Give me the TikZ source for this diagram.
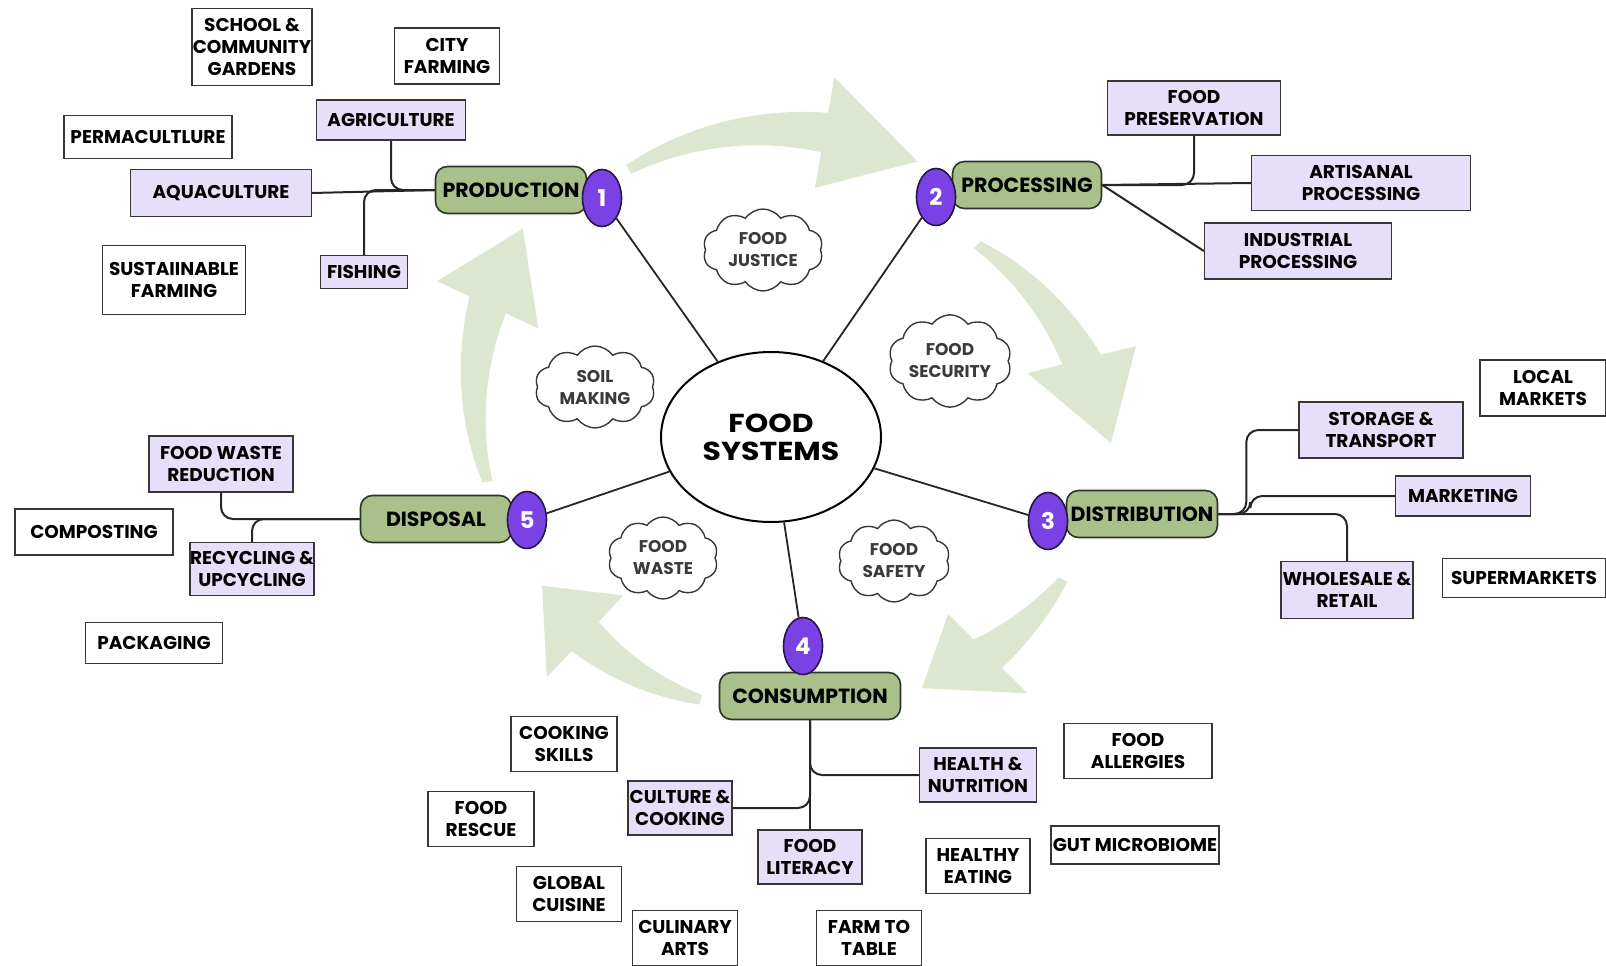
\documentclass[tikz,border=0pt]{standalone}
\usepackage{fontspec}
\setmainfont{Poppins}
\newfontfamily\widefont{Poppins}[FakeStretch=1.15]
\usetikzlibrary{shapes.geometric,shapes.symbols}

\definecolor{stagegreen}{RGB}{170,192,138}
\definecolor{stageedge}{RGB}{45,52,40}
\definecolor{badgepurple}{RGB}{122,66,228}
\definecolor{badgeedge}{RGB}{40,22,72}
\definecolor{topicfill}{RGB}{231,222,250}
\definecolor{boxedge}{RGB}{55,55,55}
\definecolor{cloudtext}{RGB}{58,58,58}
\definecolor{swooshfill}{RGB}{221,230,207}

% tapered curved arrow around the hub: tail angle, head base angle, tip angle, tail radius, tip radius
\newcommand{\swoosh}[5]{%
  \fill[swooshfill, shift={(771,437)}]
    plot[domain=#1:#2, samples=40] (\x:{#4+(#5-(#4))*(\x-(#1))/(#3-(#1)) + (10+30*(\x-(#1))/(#2-(#1)))/2})
    -- (#2:{#4+(#5-(#4))*(#2-(#1))/(#3-(#1))+56})
    -- (#3:#5)
    -- (#2:{#4+(#5-(#4))*(#2-(#1))/(#3-(#1))-56})
    -- plot[domain=#2:#1, samples=40] (\x:{#4+(#5-(#4))*(\x-(#1))/(#3-(#1)) - (10+30*(\x-(#1))/(#2-(#1)))/2})
    -- cycle;}

\newcommand{\boxfont}{\fontsize{18.5}{22}\selectfont\bfseries}

\begin{document}
\begin{tikzpicture}[x=1pt,y=-1pt,
  hub/.style={ellipse, draw=black, line width=2pt, fill=white, minimum width=220pt, minimum height=170pt,
    align=center, font=\fontsize{26}{28}\selectfont\widefont\bfseries},
  stage/.style={draw=stageedge, fill=stagegreen, line width=1.6pt, rounded corners=12pt,
    minimum width=151pt, minimum height=47pt, inner sep=0pt, font=\fontsize{20.5}{22}\selectfont\bfseries},
  badge/.style={ellipse, draw=badgeedge, fill=badgepurple, line width=1.6pt, minimum width=39pt,
    minimum height=57pt, inner sep=0pt, text=white, font=\fontsize{23}{24}\selectfont\bfseries},
  topic/.style={draw=boxedge, fill=topicfill, line width=1.4pt, inner sep=0pt, align=center, font=\boxfont},
  idea/.style={topic, fill=white},
  size/.style 2 args={minimum width=#1pt, minimum height=#2pt},
  thought/.style={cloud, cloud puffs=10, cloud puff arc=110, aspect=1.5, draw=boxedge, line width=1.4pt,
    fill=white, text=cloudtext, inner sep=0pt, minimum width=120pt, minimum height=82pt, align=center,
    font=\fontsize{17}{22}\selectfont\bfseries},
  link/.style={draw=black!85, line width=2pt, rounded corners=12pt},
  spoke/.style={draw=black!85, line width=1.8pt}]

  \useasboundingbox (0,0) rectangle (1606,966);

  % Cycle arrows round the hub
  \swoosh{-118}{-80}{-62}{303}{312}
  \swoosh{-43}{-14}{1}{282}{340}
  \swoosh{26}{45}{59}{325}{293}
  \swoosh{105}{133}{147}{272}{273}
  \swoosh{171}{205}{220}{287}{324}

  % Hub and the five stages
  \node[hub] (hub) at (771,437) {FOOD\\SYSTEMS};

  \node[stage] (prod) at (511,190) {PRODUCTION};
  \node[badge] (b1) at (602,198) {1};
  \node[stage, minimum width=149pt] (proc) at (1027,185) {PROCESSING};
  \node[badge] (b2) at (936,197) {2};
  \node[stage] (dist) at (1142,514) {DISTRIBUTION};
  \node[badge] (b3) at (1048,521) {3};
  \node[stage, minimum width=181pt] (cons) at (810,696) {CONSUMPTION};
  \node[badge] (b4) at (803,646) {4};
  \node[stage] (disp) at (436,519) {DISPOSAL};
  \node[badge] (b5) at (527,520) {5};

  % Clouds between the spokes
  \node[thought] (justice) at (763,250) {FOOD\\JUSTICE};
  \node[thought] (security) at (950,361) {FOOD\\SECURITY};
  \node[thought] (soil) at (595,387) {SOIL\\MAKING};
  \node[thought, minimum width=110pt] (waste) at (663,558) {FOOD\\WASTE};
  \node[thought, minimum width=112pt] (safety) at (894,561) {FOOD\\SAFETY};

  % Production
  \node[topic, size={149}{40}] (agri) at (391,120) {AGRICULTURE};
  \node[topic, size={181}{47}] (aqua) at (221,193) {AQUACULTURE};
  \node[topic, size={87}{33}] (fish) at (364,272) {FISHING};
  \node[idea, size={120}{77}] (garden) at (252,47) {SCHOOL \&\\COMMUNITY\\GARDENS};
  \node[idea, size={105}{56}] (city) at (447,56) {CITY\\FARMING};
  \node[idea, size={168}{43}] (perma) at (148,137) {PERMACULTLURE};
  \node[idea, size={143}{69}] (sustain) at (174,280) {SUSTAIINABLE\\FARMING};

  % Processing
  \node[topic, size={173}{54}] (pres) at (1194,108) {FOOD\\PRESERVATION};
  \node[topic, size={219}{55}] (artis) at (1361,183) {ARTISANAL\\PROCESSING};
  \node[topic, size={187}{56}] (indus) at (1298,251) {INDUSTRIAL\\PROCESSING};

  % Distribution
  \node[topic, size={164}{56}] (stor) at (1381,430) {STORAGE \&\\TRANSPORT};
  \node[topic, size={135}{40}] (mkt) at (1463,496) {MARKETING};
  \node[topic, size={132}{57}] (whole) at (1347,590) {WHOLESALE \&\\RETAIL};
  \node[idea, size={126}{56}] (local) at (1543,388) {LOCAL\\MARKETS};
  \node[idea, size={163}{39}] (super) at (1524,578) {SUPERMARKETS};

  % Consumption
  \node[topic, size={117}{54}] (health) at (978,775) {HEALTH \&\\NUTRITION};
  \node[topic, size={104}{54}] (cult) at (680,808) {CULTURE \&\\COOKING};
  \node[topic, size={104}{54}] (lit) at (810,857) {FOOD\\LITERACY};
  \node[idea, size={106}{55}] (skills) at (564,744) {COOKING\\SKILLS};
  \node[idea, size={106}{55}] (rescue) at (481,819) {FOOD\\RESCUE};
  \node[idea, size={105}{55}] (cuisine) at (569,894) {GLOBAL\\CUISINE};
  \node[idea, size={105}{55}] (arts) at (685,938) {CULINARY\\ARTS};
  \node[idea, size={105}{55}] (farm) at (869,938) {FARM TO\\TABLE};
  \node[idea, size={104}{55}] (healthy) at (978,866) {HEALTHY\\EATING};
  \node[idea, size={148}{55}] (allergy) at (1138,751) {FOOD\\ALLERGIES};
  \node[idea, size={168}{38}] (gut) at (1135,845) {GUT MICROBIOME};

  % Disposal
  \node[topic, size={144}{56}] (fwr) at (221,464) {FOOD WASTE\\REDUCTION};
  \node[topic, size={124}{53}] (recy) at (252,569) {RECYCLING \&\\UPCYCLING};
  \node[idea, size={158}{46}] (compost) at (94,532) {COMPOSTING};
  \node[idea, size={137}{41}] (pack) at (154,643) {PACKAGING};

  % Spokes from the hub
  \foreach \b in {b1,b2,b3,b4,b5}
    \draw[spoke] (hub) -- (\b);

  % Branches
  \draw[link] (aqua.east) -- (prod.west);
  \draw[link] (agri.south) |- (prod.west);
  \draw[link] (fish.north) |- (prod.west);

  \draw[link] (pres.south) |- (proc.east);
  \draw[link] (proc.east) -- (artis.west);
  \draw[link] (proc.east) -- (indus.west);

  \draw[link] (dist.east) -- ++(28,0) |- (stor.west);
  \draw[link] (dist.east) -- ++(32,0) |- (mkt.west);
  \draw[link] (dist.east) -| (whole.north);

  \draw[link] (cons.south) -- (lit.north);
  \draw[link] (cons.south) |- (health.west);
  \draw[link] (cons.south) |- (cult.east);

  \draw[link] (fwr.south) |- (disp.west);
  \draw[link] (recy.north) |- (disp.west);
\end{tikzpicture}
\end{document}
